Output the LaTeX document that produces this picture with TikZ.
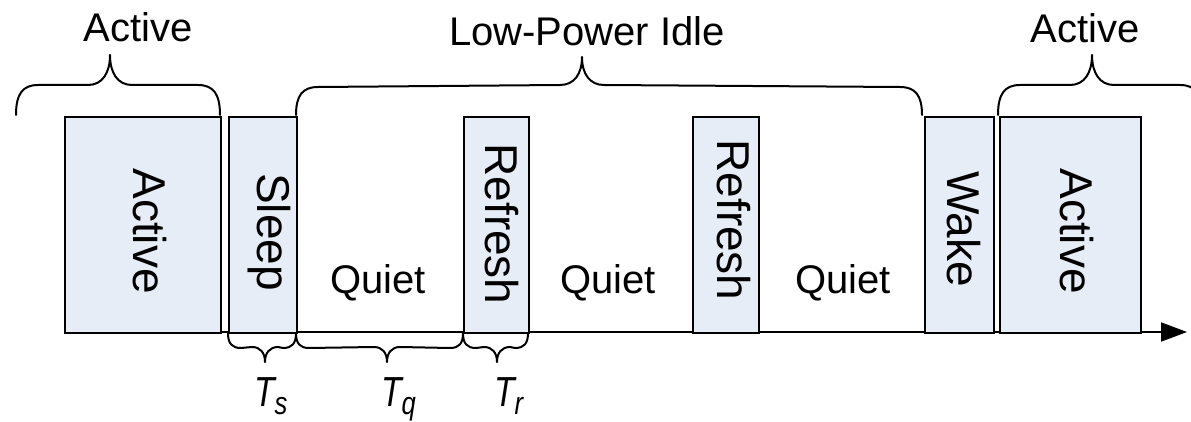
\documentclass[tikz,border=0pt]{standalone}
\usepackage{fontspec}
\setmainfont{Liberation Sans}
\usepackage{graphicx}
\usetikzlibrary{calc,arrows.meta}
\definecolor{boxfill}{RGB}{231,237,246}
\tikzset{
  stbox/.style={draw=black, line width=2pt, fill=boxfill, inner sep=0pt, anchor=north west},
  bline/.style={line width=2pt, line cap=round, line join=round},
  vtext/.style={rotate=-90, anchor=base, inner sep=0pt, font=\fontsize{46}{46}\selectfont},
  htext/.style={anchor=base, inner sep=0pt, font=\fontsize{40}{40}\selectfont},
  tlabel/.style={anchor=base west, inner sep=0pt, font=\fontsize{42}{42}\selectfont\itshape},
}
% #1 start, #2 end, #3 tip, #4 h, #5 -h, #6 hook width
\newcommand\CurlyBrace[6]{%
  \draw[bline] (#1) .. controls ($(#1)+(0,0.7*#4)$) and ($(#1)+(0.3*#6,#4)$) .. ($(#1)+(#6,#4)$)
    -- ($(#3)+(-#6,#5)$) .. controls ($(#3)+(-0.35*#6,#5)$) and ($(#3)+(0,0.6*#5)$) .. (#3)
    .. controls ($(#3)+(0,0.6*#5)$) and ($(#3)+(0.35*#6,#5)$) .. ($(#3)+(#6,#5)$)
    -- ($(#2)+(-#6,#4)$) .. controls ($(#2)+(-0.3*#6,#4)$) and ($(#2)+(0,0.7*#4)$) .. (#2);}
\begin{document}
\begin{tikzpicture}[x=1pt,y=-1pt]
\useasboundingbox (0,0) rectangle (1191,422);
\fill[white] (0,0) rectangle (1191,422);
\clip (0,0) rectangle (1191,422);

% time axis
\coordinate (axL) at (64,332);
\coordinate (axR) at (1187,332);
\draw[line width=2pt, -{Triangle[length=26pt,width=19pt]}] (axL) -- (axR);

% state boxes
\node[stbox, minimum width=156pt, minimum height=216pt] (act1) at (64,116) {};
\node[stbox, minimum width=68pt,  minimum height=216pt] (slp)  at (228,116) {};
\node[stbox, minimum width=65pt,  minimum height=216pt] (ref1) at (463,116) {};
\node[stbox, minimum width=66pt,  minimum height=216pt] (ref2) at (692,116) {};
\node[stbox, minimum width=69pt,  minimum height=216pt] (wak)  at (924,116) {};
\node[stbox, minimum width=141pt, minimum height=216pt] (act2) at (999,116) {};

% rotated labels
\node[vtext] (tact1) at (133,231) {Active};
\node[vtext] (tslp)  at (257,232) {Sleep};
\node[vtext] (tref1) at (485,224) {Refresh};
\node[vtext] (tref2) at (717,220) {Refresh};
\node[vtext] (twak)  at (947,229) {Wake};
\node[vtext] (tact2) at (1060,231) {Active};

% quiet labels
\node[htext] (q1) at (378,293) {Quiet};
\node[htext] (q2) at (608,293) {Quiet};
\node[htext] (q3) at (843,293) {Quiet};

% top braces
\coordinate (b1s) at (16,115);   \coordinate (b1e) at (220,115);  \coordinate (b1t) at (110,55);
\coordinate (b2s) at (296,115);  \coordinate (b2e) at (922,115);  \coordinate (b2t) at (582,57);
\coordinate (b3s) at (998,115);  \coordinate (b3e) at (1202,115); \coordinate (b3t) at (1092,55);
\CurlyBrace{b1s}{b1e}{b1t}{-30}{30}{22}
\CurlyBrace{b2s}{b2e}{b2t}{-28}{28}{22}
\CurlyBrace{b3s}{b3e}{b3t}{-30}{30}{22}

\node[htext] (la1) at (138,42) {Active};
\node[htext] (la2) at (587,46) {Low-Power Idle};
\node[htext] (la3) at (1085,43) {Active};

% bottom braces
\coordinate (c1s) at (228,333);  \coordinate (c1e) at (296,333);  \coordinate (c1t) at (265,362);
\coordinate (c2s) at (296,333);  \coordinate (c2e) at (463,333);  \coordinate (c2t) at (387,362);
\coordinate (c3s) at (463,333);  \coordinate (c3e) at (528,333);  \coordinate (c3t) at (497,362);
\CurlyBrace{c1s}{c1e}{c1t}{15}{-15}{13}
\CurlyBrace{c2s}{c2e}{c2t}{15}{-15}{13}
\CurlyBrace{c3s}{c3e}{c3t}{15}{-15}{13}

\node[tlabel] (ts) at (254,406) {\scalebox{0.8}[1]{T\raisebox{-8pt}{\fontsize{32}{32}\selectfont s}}};
\node[tlabel] (tq) at (381,406) {\scalebox{0.8}[1]{T\raisebox{-8pt}{\fontsize{32}{32}\selectfont q}}};
\node[tlabel] (tr) at (494,406) {\scalebox{0.8}[1]{T\raisebox{-8pt}{\fontsize{32}{32}\selectfont r}}};
\end{tikzpicture}
\end{document}
